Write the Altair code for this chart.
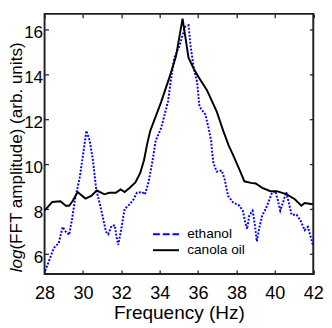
import altair as alt
import pandas as pd

# ---------------- data ----------------
canola_freq = [28.0, 28.4, 28.82, 29.11, 29.28, 29.47, 29.72, 30.13, 30.43, 30.72,
               31.12, 31.37, 31.71, 31.96, 32.17, 32.44, 32.73, 32.98, 33.18, 33.35,
               33.5, 34.08, 34.51, 34.85, 35.19, 35.5, 35.78, 36.03, 36.46, 36.97,
               37.31, 37.6, 37.82, 38.16, 38.41, 38.75, 39.0, 39.34, 39.77, 40.1,
               40.62, 41.04, 41.38, 41.55, 41.98]
canola_amp = [7.91, 8.30, 8.33, 8.13, 8.13, 8.35, 8.74, 8.45, 8.57, 8.81,
              8.64, 8.71, 8.71, 8.86, 8.74, 8.93, 9.17, 9.58, 10.16, 10.9,
              11.45, 12.77, 13.86, 14.8, 16.47, 14.73, 14.22, 13.86, 13.28, 12.33,
              11.47, 10.8, 10.4, 9.73, 9.22, 9.15, 9.12, 8.93, 8.78, 8.78,
              8.64, 8.42, 8.13, 8.25, 8.2]

ethanol_freq = [28.03, 28.23, 28.48, 28.74, 28.94, 29.11, 29.28, 29.42, 29.59, 29.84,
                30.01, 30.18, 30.35, 30.52, 30.69, 30.94, 31.2, 31.32, 31.49, 31.66,
                31.76, 31.84, 32.0, 32.17, 32.44, 32.64, 32.81, 33.07, 33.23, 33.41,
                33.63, 33.79, 34.08, 34.43, 34.59, 34.76, 35.02, 35.32, 35.5, 35.61,
                35.78, 35.95, 36.07, 36.38, 36.54, 36.68, 36.72, 36.8, 36.97, 37.23,
                37.39, 37.56, 37.82, 38.16, 38.33, 38.45, 38.55, 38.67, 38.84, 38.96,
                39.06, 39.18, 39.34, 39.52, 39.69, 39.85, 40.03, 40.16, 40.28, 40.45,
                40.59, 40.7, 40.87, 41.13, 41.33, 41.55, 41.72, 41.98]
ethanol_amp = [5.23, 5.67, 6.25, 6.47, 7.19, 6.97, 6.83, 7.48, 8.42, 9.43,
               10.45, 11.47, 11.03, 10.16, 8.86, 7.99, 6.97, 6.86, 7.23, 7.26,
               6.68, 6.39, 7.12, 7.99, 8.2, 8.42, 8.71, 8.74, 8.64, 9.15,
               10.16, 11.03, 11.61, 12.77, 13.78, 14.73, 15.23, 16.1, 16.17, 15.23,
               14.22, 13.64, 12.55, 12.19, 11.61, 11.03, 10.6, 10.02, 9.65, 9.7,
               9.29, 8.57, 8.28, 8.13, 7.91, 7.41, 7.09, 7.7, 7.91, 7.26,
               6.54, 7.12, 7.7, 7.99, 8.35, 8.71, 8.78, 8.35, 7.91, 8.35,
               8.74, 8.35, 7.73, 7.73, 7.48, 7.04, 7.19, 6.39]

x_ticks = [28, 30, 32, 34, 36, 38, 40, 42]
y_ticks = [6, 8, 10, 12, 14, 16]
legend_labels = ["ethanol", "canola oil"]
x_title = "Frequency (Hz)"
y_title_italic = "log"
y_title_rest = "(FFT amplitude) (arb. units)"

# ---------------- layout / style ----------------
FONT = "Liberation Sans"
W, H = 275.5, 266.7
PAD = {"left": 37.5, "top": 2, "right": 11, "bottom": 50}
BLUE = "#0000ff"
BLACK = "#000000"
AXC = "#222222"

canola = pd.DataFrame({"f": canola_freq, "v": canola_amp})
ethanol = pd.DataFrame({"f": ethanol_freq, "v": ethanol_amp})

xs = alt.Scale(domain=[28, 42], nice=False, zero=False)
ys = alt.Scale(domain=[5.09, 16.68], nice=False, zero=False)


def tick_axis(orient, offset, values):
    return alt.Axis(orient=orient, offset=offset, values=values, labels=False,
                    title=None, ticks=True, tickSize=4, tickWidth=1.3,
                    tickColor=AXC, domain=False, grid=False)


# ethanol (dotted blue); carries the inward ticks at bottom and left edges
eth_layer = alt.Chart(ethanol).mark_line(
    color=BLUE, strokeWidth=2, strokeDash=[2, 1.6], strokeCap="butt"
).encode(
    x=alt.X("f:Q", scale=xs, axis=tick_axis("top", -H, x_ticks)),
    y=alt.Y("v:Q", scale=ys, axis=tick_axis("right", -W, y_ticks)),
    order="f:Q",
)

# canola oil (solid black); carries the labelled axes
can_layer = alt.Chart(canola).mark_line(
    color=BLACK, strokeWidth=2
).encode(
    x=alt.X("f:Q", scale=xs, axis=alt.Axis(
        orient="bottom", values=x_ticks, title=x_title, ticks=False, tickSize=0,
        domain=False, grid=False, labelFont=FONT, labelFontSize=18.5,
        labelColor=BLACK, labelPadding=10, labelFlush=False, labelOverlap=False,
        titleFont=FONT, titleFontSize=19.5, titleFontWeight="normal",
        titleColor=BLACK, titlePadding=2, format="d")),
    y=alt.Y("v:Q", scale=ys, axis=alt.Axis(
        orient="left", values=y_ticks, title=None, ticks=False, tickSize=0,
        domain=False, grid=False, labelFont=FONT, labelFontSize=17.5,
        labelColor=BLACK, labelPadding=2, labelOffset=4, labelFlush=False,
        labelOverlap=False, format="d")),
    order="f:Q",
)

# invisible copy carrying the inward ticks at the top and right edges
tick_layer = alt.Chart(canola).mark_line(strokeOpacity=0).encode(
    x=alt.X("f:Q", scale=xs, axis=tick_axis("bottom", -H, x_ticks)),
    y=alt.Y("v:Q", scale=ys, axis=tick_axis("left", -W, y_ticks)),
)

# legend drawn by hand
leg_df = pd.DataFrame({"label": legend_labels})
LX0, LX1, LTX = 111.2, 137.8, 146.2
LY = [226.0, 242.3]
leg_eth_line = alt.Chart(leg_df.iloc[[0]]).mark_rule(
    color=BLUE, strokeWidth=2, strokeDash=[7, 3]
).encode(x=alt.value(LX0), x2=alt.value(LX1), y=alt.value(LY[0]))
leg_can_line = alt.Chart(leg_df.iloc[[1]]).mark_rule(
    color=BLACK, strokeWidth=2
).encode(x=alt.value(LX0), x2=alt.value(LX1), y=alt.value(LY[1]))
leg_eth_text = alt.Chart(leg_df.iloc[[0]]).mark_text(
    font=FONT, fontSize=14, align="left", baseline="middle", color=BLACK
).encode(text="label:N", x=alt.value(LTX), y=alt.value(LY[0]))
leg_can_text = alt.Chart(leg_df.iloc[[1]]).mark_text(
    font=FONT, fontSize=14, align="left", baseline="middle", color=BLACK
).encode(text="label:N", x=alt.value(LTX), y=alt.value(LY[1]))

# y-axis title with italic "log"
TFS = 17.5
TX = -23.3
TY0 = 265
title_df = pd.DataFrame({"a": [y_title_italic], "b": [y_title_rest]})
title_log = alt.Chart(title_df).mark_text(
    font=FONT, fontSize=TFS, fontStyle="italic", angle=270, align="left",
    baseline="alphabetic", color=BLACK
).encode(text="a:N", x=alt.value(TX), y=alt.value(TY0))
title_rest = alt.Chart(title_df).mark_text(
    font=FONT, fontSize=TFS, angle=270, align="left",
    baseline="alphabetic", color=BLACK
).encode(text="b:N", x=alt.value(TX), y=alt.value(TY0 - 1.334 * TFS))

chart = alt.layer(
    eth_layer, can_layer, tick_layer,
    leg_eth_line, leg_can_line, leg_eth_text, leg_can_text,
    title_log, title_rest,
).resolve_scale(
    x="independent", y="independent"
).properties(
    width=W, height=H, padding=PAD,
    autosize=alt.AutoSizeParams(type="none"),
).configure_view(
    stroke=AXC, strokeWidth=2
)

chart.save("out.html", embed_options={"renderer": "svg", "actions": False})
